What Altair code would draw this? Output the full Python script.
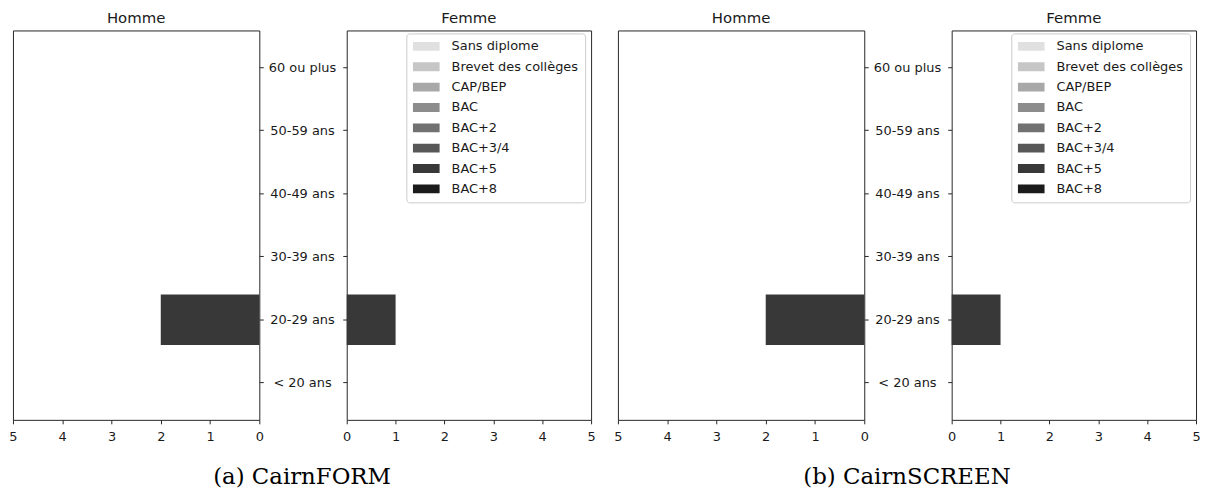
import altair as alt
import pandas as pd

# ---- data ----
ages = ["< 20 ans", "20-29 ans", "30-39 ans", "40-49 ans", "50-59 ans", "60 ou plus"]
age_order_top_down = ["60 ou plus", "50-59 ans", "40-49 ans", "30-39 ans", "20-29 ans", "< 20 ans"]
education = ["Sans diplome", "Brevet des collèges", "CAP/BEP", "BAC",
             "BAC+2", "BAC+3/4", "BAC+5", "BAC+8"]
grey_colors = ["#e0e0e0", "#c6c6c6", "#a8a8a8", "#8c8c8c",
               "#717171", "#575757", "#383838", "#1b1b1b"]
x_ticks = [0, 1, 2, 3, 4, 5]

# counts per age group (same order as `ages`); only BAC+5 is non-empty
cairnform_homme_bac5 = [0, 2, 0, 0, 0, 0]
cairnform_femme_bac5 = [0, 1, 0, 0, 0, 0]
cairnscreen_homme_bac5 = [0, 2, 0, 0, 0, 0]
cairnscreen_femme_bac5 = [0, 1, 0, 0, 0, 0]

captions = ["(a) CairnFORM", "(b) CairnSCREEN"]

FRAME = "#262626"
TEXT = "#1a1a1a"
H_W, F_W, PLOT_H = 248, 246, 392


def panel(counts, sex, with_legend):
    df = pd.DataFrame({"age": ages, "diplome": ["BAC+5"] * len(ages), "n": counts})
    df = df[df["n"] > 0]
    is_h = sex == "Homme"
    if is_h:
        y_axis = alt.Axis(orient="right", title=None, labelAlign="center",
                          labelPadding=39, tickSize=4, labelBaseline="middle")
    else:
        y_axis = alt.Axis(orient="left", title=None, labels=False, tickSize=4)
    legend = None
    if with_legend:
        legend = alt.Legend(
            title=None, orient="none", legendX=60, legendY=3, padding=6.5,
            strokeColor="#cccccc", fillColor="white", cornerRadius=3,
            symbolType="M-1,-0.33H1V0.33H-1Z", symbolSize=729,
            symbolStrokeWidth=0, symbolOpacity=1, symbolOffset=0,
            labelFont="DejaVu Sans", labelFontSize=13, labelColor=TEXT,
            labelOffset=12, rowPadding=6.5, clipHeight=13,
        )
    return alt.Chart(df).mark_bar().encode(
        x=alt.X("n:Q", stack="zero",
                scale=alt.Scale(domain=[0, 5], reverse=is_h, nice=False, zero=True),
                axis=alt.Axis(values=x_ticks, format="d", title=None, labelFlush=False,
                              labelOverlap=False, tickSize=4, labelPadding=7)),
        y=alt.Y("age:N", sort=age_order_top_down,
                scale=alt.Scale(domain=age_order_top_down, paddingInner=0.2, paddingOuter=0.19),
                axis=y_axis),
        color=alt.Color("diplome:N",
                        scale=alt.Scale(domain=education, range=grey_colors),
                        legend=legend),
    ).properties(
        width=H_W if is_h else F_W, height=PLOT_H,
        title=alt.TitleParams(sex, font="DejaVu Sans", fontSize=15, fontWeight="normal",
                              color=TEXT, offset=5),
    )


def pair(h_counts, f_counts, caption):
    return alt.hconcat(
        panel(h_counts, "Homme", False),
        panel(f_counts, "Femme", True),
        spacing=5,
        title=alt.TitleParams(caption, orient="bottom", anchor="middle",
                              font="DejaVu Serif", fontSize=23, fontWeight="normal",
                              color="#000000", baseline="alphabetic", offset=40),
    ).resolve_scale(color="independent").resolve_legend(color="independent")


chart = alt.hconcat(
    pair(cairnform_homme_bac5, cairnform_femme_bac5, captions[0]),
    pair(cairnscreen_homme_bac5, cairnscreen_femme_bac5, captions[1]),
    spacing=17,
).resolve_scale(color="independent").resolve_legend(color="independent").properties(
    padding=0, background="white"
).configure_view(
    stroke=FRAME, strokeWidth=1
).configure_axis(
    domain=False, grid=False, tickColor=FRAME, tickWidth=1,
    labelFont="DejaVu Sans", labelFontSize=13, labelColor=TEXT,
)

chart.save("out.html", embed_options={"renderer": "svg", "actions": False})
